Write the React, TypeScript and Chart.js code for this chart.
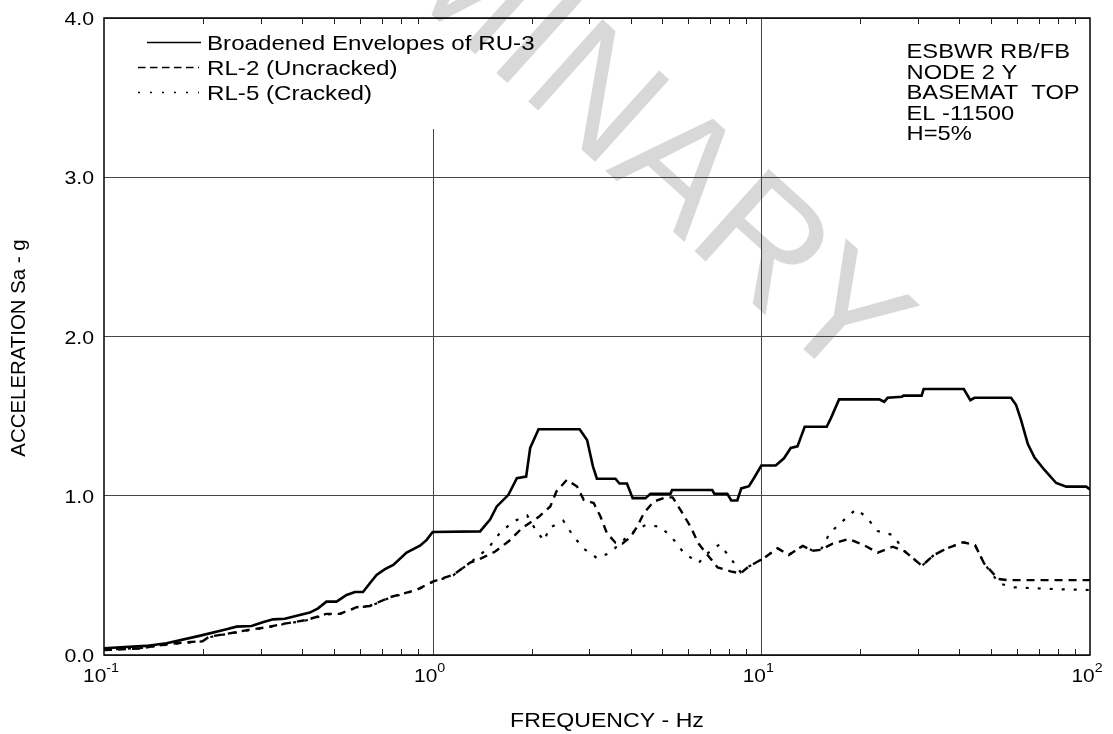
import React, { useEffect, useRef } from "react";
import { Chart, registerables } from "chart.js";

Chart.register(...registerables);

// ---------------- data ----------------
const ENV_FREQ = [0.1, 0.134, 0.155, 0.195, 0.236, 0.253, 0.281, 0.304, 0.327, 0.355, 0.394, 0.423, 0.448, 0.475, 0.51, 0.547, 0.58, 0.614, 0.644, 0.675, 0.716, 0.759, 0.833, 0.915, 0.959, 1.0, 1.394, 1.495, 1.567, 1.7, 1.804, 1.925, 1.98, 2.1, 2.8, 2.95, 3.075, 3.16, 3.6, 3.7, 3.9, 4.06, 4.44, 4.6, 5.29, 5.35, 7.09, 7.2, 7.88, 8.1, 8.45, 8.69, 9.17, 9.49, 10.0, 11.06, 11.72, 12.29, 12.88, 13.55, 15.81, 16.27, 17.24, 22.84, 23.65, 24.22, 26.78, 27.1, 30.74, 31.18, 41.3, 43.25, 44.5, 57.5, 59.6, 61.7, 64.7, 67.8, 72.7, 78.9, 84.7, 97.4, 100];
const ENV_ACC = [0.042, 0.057, 0.074, 0.12, 0.162, 0.178, 0.182, 0.205, 0.224, 0.228, 0.251, 0.266, 0.293, 0.335, 0.335, 0.377, 0.396, 0.396, 0.451, 0.503, 0.539, 0.566, 0.643, 0.686, 0.723, 0.772, 0.776, 0.85, 0.933, 1.006, 1.11, 1.12, 1.3, 1.418, 1.418, 1.35, 1.183, 1.107, 1.107, 1.077, 1.077, 0.985, 0.985, 1.012, 1.012, 1.036, 1.036, 1.012, 1.012, 0.97, 0.97, 1.046, 1.06, 1.11, 1.19, 1.19, 1.235, 1.3, 1.31, 1.433, 1.433, 1.486, 1.605, 1.605, 1.59, 1.615, 1.622, 1.629, 1.629, 1.67, 1.67, 1.6, 1.615, 1.615, 1.57, 1.475, 1.325, 1.24, 1.162, 1.08, 1.057, 1.057, 1.04];

const RL2_FREQ = [0.1, 0.131, 0.144, 0.166, 0.2, 0.209, 0.247, 0.284, 0.312, 0.35, 0.413, 0.475, 0.522, 0.587, 0.644, 0.741, 0.894, 1.0, 1.155, 1.3, 1.41, 1.55, 1.71, 1.87, 2.1, 2.28, 2.38, 2.56, 2.75, 2.88, 3.09, 3.24, 3.39, 3.6, 3.78, 4.0, 4.19, 4.39, 4.7, 5.11, 5.37, 5.68, 6.09, 6.44, 6.86, 7.36, 8.06, 8.65, 9.15, 10.16, 11.21, 12.11, 13.36, 14.33, 15.17, 16.5, 18.46, 20.5, 22.6, 25.1, 27.35, 30.8, 33.5, 36.7, 41.1, 44.7, 47.6, 52.5, 56.3, 100];
const RL2_ACC = [0.031, 0.042, 0.058, 0.074, 0.088, 0.115, 0.14, 0.162, 0.174, 0.195, 0.22, 0.258, 0.258, 0.3, 0.308, 0.363, 0.409, 0.461, 0.503, 0.58, 0.608, 0.65, 0.717, 0.797, 0.866, 0.933, 1.027, 1.1, 1.058, 0.975, 0.954, 0.87, 0.765, 0.705, 0.7, 0.74, 0.806, 0.89, 0.963, 0.99, 0.99, 0.91, 0.806, 0.7, 0.628, 0.55, 0.525, 0.513, 0.555, 0.607, 0.67, 0.628, 0.685, 0.655, 0.66, 0.7, 0.728, 0.69, 0.643, 0.68, 0.65, 0.56, 0.628, 0.67, 0.708, 0.69, 0.576, 0.478, 0.47, 0.47];

const RL5_FREQ = [0.1, 0.131, 0.144, 0.166, 0.2, 0.209, 0.247, 0.284, 0.312, 0.35, 0.413, 0.475, 0.522, 0.587, 0.644, 0.741, 0.894, 1.0, 1.155, 1.3, 1.475, 1.593, 1.757, 1.939, 2.065, 2.185, 2.262, 2.496, 2.677, 2.872, 3.17, 3.47, 4.0, 4.44, 4.93, 5.37, 5.8, 6.44, 6.86, 7.46, 8.0, 8.65, 9.15, 10.16, 11.21, 12.11, 13.36, 14.33, 15.17, 16.18, 17.6, 19.42, 20.83, 22.6, 25.1, 27.35, 30.8, 33.5, 36.7, 41.1, 44.7, 47.6, 52.9, 58.4, 80.0, 100];
const RL5_ACC = [0.034, 0.044, 0.056, 0.072, 0.086, 0.112, 0.138, 0.16, 0.172, 0.193, 0.218, 0.255, 0.258, 0.298, 0.306, 0.36, 0.407, 0.458, 0.5, 0.58, 0.67, 0.76, 0.838, 0.876, 0.78, 0.717, 0.797, 0.843, 0.748, 0.67, 0.607, 0.643, 0.762, 0.816, 0.806, 0.733, 0.643, 0.578, 0.638, 0.695, 0.617, 0.52, 0.555, 0.607, 0.67, 0.628, 0.685, 0.655, 0.66, 0.768, 0.837, 0.915, 0.868, 0.778, 0.754, 0.65, 0.56, 0.628, 0.67, 0.708, 0.69, 0.576, 0.45, 0.425, 0.413, 0.408];

const X_DECADES = [0.1, 1, 10, 100];
const X_EXPONENTS = ["-1", "0", "1", "2"];
const Y_TICKS = [0, 1, 2, 3, 4];
const LEGEND_LABELS = ["Broadened Envelopes of RU-3", "RL-2 (Uncracked)", "RL-5 (Cracked)"];
const NOTE_LINES = ["ESBWR RB/FB", "NODE 2 Y", "BASEMAT  TOP", "EL -11500", "H=5%"];
const X_TITLE = "FREQUENCY - Hz";
const Y_TITLE = "ACCELERATION Sa - g";
const WATERMARK = "PRELIMINARY";

const FONT = '"Liberation Sans", Arial, Helvetica, sans-serif';

function sText(
  ctx: CanvasRenderingContext2D,
  text: string,
  x: number,
  y: number,
  size: number,
  align: "left" | "right" | "center",
  sx = 1.12,
  rot = 0
) {
  ctx.save();
  ctx.font = `${size}px ${FONT}`;
  const w = ctx.measureText(text).width * sx;
  ctx.translate(x, y);
  if (rot) ctx.rotate(rot);
  let x0 = 0;
  if (align === "right") x0 = -w;
  else if (align === "center") x0 = -w / 2;
  ctx.translate(x0, 0);
  ctx.scale(sx, 1);
  ctx.textAlign = "left";
  ctx.textBaseline = "alphabetic";
  ctx.fillStyle = "#000";
  ctx.fillText(text, 0, 0);
  ctx.restore();
}

const deco = {
  id: "deco",
  beforeDraw(chart: any) {
    const ctx: CanvasRenderingContext2D = chart.ctx;
    ctx.save();
    ctx.fillStyle = "#fff";
    ctx.fillRect(0, 0, chart.width, chart.height);
    ctx.translate(474, -7);
    ctx.rotate((42 * Math.PI) / 180);
    ctx.font = `161px ${FONT}`;
    ctx.fillStyle = "#d8d8d8";
    ctx.textAlign = "center";
    ctx.textBaseline = "middle";
    ctx.fillText(WATERMARK, 0, 0);
    ctx.restore();
  },
  beforeDatasetsDraw(chart: any) {
    const ctx: CanvasRenderingContext2D = chart.ctx;
    const { top, bottom } = chart.chartArea;
    const xs = chart.scales.x;
    ctx.save();
    ctx.strokeStyle = "#444";
    ctx.lineWidth = 1;
    const x1 = Math.round(xs.getPixelForValue(1)) + 0.5;
    ctx.beginPath();
    ctx.moveTo(x1, 129);
    ctx.lineTo(x1, bottom);
    const x10 = Math.round(xs.getPixelForValue(10)) + 0.5;
    ctx.moveTo(x10, top);
    ctx.lineTo(x10, bottom);
    ctx.stroke();
    ctx.restore();
  },
  afterDraw(chart: any) {
    const ctx: CanvasRenderingContext2D = chart.ctx;
    const { left, right, top, bottom } = chart.chartArea;
    const xs = chart.scales.x;
    const ys = chart.scales.y;
    ctx.save();
    // frame
    ctx.strokeStyle = "#000";
    ctx.lineWidth = 1.5;
    ctx.strokeRect(left, top, right - left, bottom - top);
    // minor ticks
    ctx.lineWidth = 1;
    ctx.strokeStyle = "#222";
    ctx.beginPath();
    for (let d = 0; d < 3; d++) {
      for (let k = 2; k <= 9; k++) {
        const px = Math.round(xs.getPixelForValue(k * X_DECADES[d])) + 0.5;
        ctx.moveTo(px, bottom);
        ctx.lineTo(px, bottom - 6);
        ctx.moveTo(px, top);
        ctx.lineTo(px, top + 6);
      }
    }
    ctx.stroke();
    ctx.restore();

    // y tick labels
    Y_TICKS.forEach((v) => {
      const py = ys.getPixelForValue(v);
      sText(ctx, v.toFixed(1), 94, py + 7, 19, "right", 1.12);
    });
    // x tick labels
    X_DECADES.forEach((v, i) => {
      const px = xs.getPixelForValue(v);
      ctx.save();
      ctx.font = `19px ${FONT}`;
      const wBase = ctx.measureText("10").width * 1.1;
      ctx.font = `13px ${FONT}`;
      const wSup = ctx.measureText(X_EXPONENTS[i]).width * 1.1;
      ctx.restore();
      const x0 = px - 3 - (wBase + wSup) / 2;
      sText(ctx, "10", x0, 682, 19, "left", 1.1);
      sText(ctx, X_EXPONENTS[i], x0 + wBase, 672, 13, "left", 1.1);
    });
    // titles
    sText(ctx, X_TITLE, 607, 727, 21, "center", 1.1);
    sText(ctx, Y_TITLE, 25, 348, 20, "center", 1.02, -Math.PI / 2);

    // legend
    const styles: { dash: number[] }[] = [{ dash: [] }, { dash: [7.5, 4.5] }, { dash: [2, 10] }];
    const lb = [50, 75, 99.5];
    LEGEND_LABELS.forEach((lab, i) => {
      ctx.save();
      ctx.strokeStyle = "#000";
      ctx.lineWidth = 1.5;
      ctx.setLineDash(styles[i].dash);
      ctx.beginPath();
      const yy = Math.round(lb[i] - 8) + 0.5;
      ctx.moveTo(i === 0 ? 147 : 138, yy);
      ctx.lineTo(i === 0 ? 201 : 199, yy);
      ctx.stroke();
      ctx.restore();
      sText(ctx, lab, 207, lb[i], 21, "left", 1.15);
    });

    // notes
    NOTE_LINES.forEach((t, i) => {
      sText(ctx, t, 906.5, 58.4 + i * 20.4, 21, "left", 1.13);
    });
  },
};

export default function App() {
  const ref = useRef<HTMLCanvasElement | null>(null);
  useEffect(() => {
    const canvas = ref.current;
    if (!canvas) return;
    const mk = (f: number[], a: number[]) => f.map((x, i) => ({ x, y: a[i] }));
    const chart = new Chart(canvas, {
      type: "line",
      data: {
        datasets: [
          {
            label: LEGEND_LABELS[0],
            data: mk(ENV_FREQ, ENV_ACC),
            borderColor: "#000",
            borderWidth: 2.6,
            pointRadius: 0,
            fill: false,
            tension: 0,
          },
          {
            label: LEGEND_LABELS[1],
            data: mk(RL2_FREQ, RL2_ACC),
            borderColor: "#000",
            borderWidth: 2.4,
            borderDash: [8, 6],
            pointRadius: 0,
            fill: false,
            tension: 0,
          },
          {
            label: LEGEND_LABELS[2],
            data: mk(RL5_FREQ, RL5_ACC),
            borderColor: "#000",
            borderWidth: 2.2,
            borderDash: [3, 9],
            pointRadius: 0,
            fill: false,
            tension: 0,
          },
        ],
      },
      options: {
        animation: false,
        responsive: true,
        maintainAspectRatio: false,
        layout: { padding: { left: 0, right: 23, top: 18, bottom: 0 } },
        plugins: { legend: { display: false }, tooltip: { enabled: false } },
        scales: {
          x: {
            type: "logarithmic",
            min: 0.1,
            max: 100,
            afterBuildTicks: (s: any) => {
              s.ticks = X_DECADES.map((v) => ({ value: v }));
            },
            afterFit: (s: any) => {
              s.height = 79;
            },
            ticks: { display: false },
            grid: { display: false },
            border: { display: false },
          },
          y: {
            type: "linear",
            min: 0,
            max: 4,
            afterBuildTicks: (s: any) => {
              s.ticks = Y_TICKS.map((v) => ({ value: v }));
            },
            afterFit: (s: any) => {
              s.width = 104;
            },
            ticks: { display: false },
            grid: { color: "#444", lineWidth: 1, drawTicks: false },
            border: { display: false },
          },
        },
      } as any,
      plugins: [deco],
    });
    return () => chart.destroy();
  }, []);
  return (
    <div style={{ position: "fixed", left: 0, top: 0, width: 1113, height: 734, background: "#fff" }}>
      <canvas ref={ref} />
    </div>
  );
}
